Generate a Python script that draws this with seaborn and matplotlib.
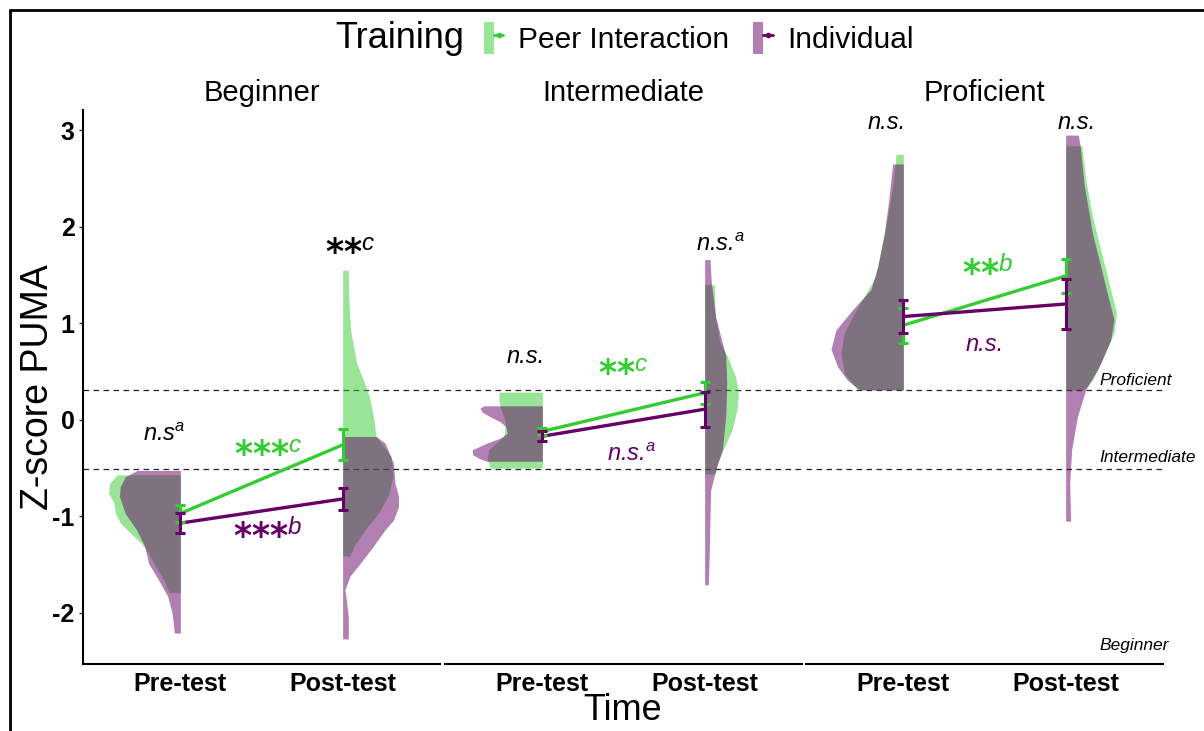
import numpy as np
import pandas as pd
import matplotlib
matplotlib.use("Agg")
import matplotlib.pyplot as plt
import seaborn as sns
from matplotlib.lines import Line2D
from matplotlib.patches import Patch
from matplotlib.legend_handler import HandlerTuple

# ---------------- data ----------------
levels = ["Beginner", "Intermediate", "Proficient"]
times = ["Pre-test", "Post-test"]
groups = ["Peer Interaction", "Individual"]

peer_mean = [[-0.97, -0.26], [-0.12, 0.28], [0.98, 1.49]]
peer_se = [[0.09, 0.16], [0.04, 0.115], [0.18, 0.18]]
ind_mean = [[-1.07, -0.82], [-0.17, 0.11], [1.07, 1.20]]
ind_se = [[0.10, 0.115], [0.05, 0.18], [0.17, 0.26]]

cutoff_values = [0.31, -0.51]
cutoff_names = ["Proficient", "Intermediate", "Beginner"]

# density profiles (y value, half-width)
beg_pre_peer_y = [-0.57, -0.66, -0.76, -0.86, -0.97, -1.07, -1.17, -1.28, -1.38, -1.52, -1.66, -1.79]
beg_pre_peer_w = [0.39, 0.436, 0.442, 0.41, 0.40, 0.37, 0.31, 0.24, 0.195, 0.154, 0.10, 0.072]
beg_pre_ind_y = [-0.525, -0.59, -0.69, -0.79, -0.97, -1.14, -1.31, -1.49, -1.66, -1.83, -2.00, -2.21]
beg_pre_ind_w = [0.267, 0.34, 0.37, 0.376, 0.34, 0.27, 0.22, 0.195, 0.134, 0.078, 0.051, 0.037]
beg_post_peer_y = [1.55, 1.28, 0.93, 0.59, 0.41, 0.24, 0.03, -0.17, -0.38, -0.59, -0.79, -0.97, -1.14, -1.31, -1.41]
beg_post_peer_w = [0.035, 0.037, 0.049, 0.086, 0.128, 0.165, 0.19, 0.206, 0.30, 0.31, 0.28, 0.22, 0.138, 0.07, 0.045]
beg_post_ind_y = [-0.173, -0.24, -0.45, -0.66, -0.79, -0.90, -1.04, -1.14, -1.31, -1.49, -1.62, -1.76, -1.90, -2.04, -2.27]
beg_post_ind_w = [0.206, 0.261, 0.313, 0.323, 0.344, 0.344, 0.313, 0.261, 0.189, 0.107, 0.045, 0.014, 0.025, 0.035, 0.035]

int_pre_peer_y = [0.287, 0.20, 0.14, -0.03, -0.17, -0.31, -0.41, -0.50]
int_pre_peer_w = [0.267, 0.268, 0.261, 0.226, 0.237, 0.33, 0.34, 0.32]
int_pre_ind_y = [0.145, 0.12, 0.08, 0.03, -0.02, -0.07, -0.14, -0.19, -0.24, -0.31, -0.36, -0.40, -0.43]
int_pre_ind_w = [0.36, 0.385, 0.37, 0.319, 0.26, 0.226, 0.216, 0.26, 0.34, 0.432, 0.43, 0.39, 0.34]
int_post_peer_y = [1.40, 1.07, 0.80, 0.66, 0.45, 0.28, 0.11, -0.10, -0.31, -0.45, -0.56]
int_post_peer_w = [0.06, 0.065, 0.095, 0.14, 0.19, 0.208, 0.20, 0.17, 0.115, 0.078, 0.068]
int_post_ind_y = [1.66, 1.42, 1.07, 0.86, 0.66, 0.38, 0.03, -0.31, -0.52, -0.73, -1.00, -1.35, -1.71]
int_post_ind_w = [0.033, 0.041, 0.068, 0.099, 0.13, 0.136, 0.13, 0.109, 0.068, 0.037, 0.033, 0.029, 0.023]

pro_pre_peer_y = [2.75, 2.45, 2.11, 1.76, 1.49, 1.31, 1.11, 0.90, 0.69, 0.48, 0.31]
pro_pre_peer_w = [0.045, 0.062, 0.097, 0.138, 0.169, 0.23, 0.30, 0.364, 0.385, 0.364, 0.28]
pro_pre_ind_y = [2.65, 2.28, 1.93, 1.59, 1.35, 1.14, 0.93, 0.73, 0.55, 0.41, 0.31]
pro_pre_ind_w = [0.066, 0.09, 0.117, 0.158, 0.2, 0.313, 0.416, 0.446, 0.405, 0.344, 0.27]
pro_post_peer_y = [2.84, 2.45, 2.11, 1.76, 1.42, 1.11, 0.90, 0.62, 0.41, 0.31]
pro_post_peer_w = [0.099, 0.128, 0.165, 0.216, 0.267, 0.313, 0.298, 0.226, 0.165, 0.11]
pro_post_ind_y = [2.95, 2.83, 2.45, 1.93, 1.59, 1.24, 1.04, 0.83, 0.55, 0.31, 0.03, -0.31, -0.66, -1.05]
pro_post_ind_w = [0.078, 0.09, 0.113, 0.165, 0.216, 0.267, 0.298, 0.278, 0.206, 0.123, 0.072, 0.037, 0.025, 0.031]

profiles = {
    ("Beginner", 0): [(beg_pre_peer_y, beg_pre_peer_w), (beg_pre_ind_y, beg_pre_ind_w)],
    ("Beginner", 1): [(beg_post_peer_y, beg_post_peer_w), (beg_post_ind_y, beg_post_ind_w)],
    ("Intermediate", 0): [(int_pre_peer_y, int_pre_peer_w), (int_pre_ind_y, int_pre_ind_w)],
    ("Intermediate", 1): [(int_post_peer_y, int_post_peer_w), (int_post_ind_y, int_post_ind_w)],
    ("Proficient", 0): [(pro_pre_peer_y, pro_pre_peer_w), (pro_pre_ind_y, pro_pre_ind_w)],
    ("Proficient", 1): [(pro_post_peer_y, pro_post_peer_w), (pro_post_ind_y, pro_post_ind_w)],
}

# ---------------- style ----------------
sns.set_theme(style="white")
plt.rcParams["font.family"] = ["Liberation Sans", "DejaVu Sans"]
plt.rcParams["mathtext.fontset"] = "custom"
plt.rcParams["mathtext.rm"] = "Liberation Sans"
plt.rcParams["mathtext.it"] = "Liberation Sans:italic"
plt.rcParams["mathtext.bf"] = "Liberation Sans:bold"
for key in ("text.color", "axes.labelcolor", "xtick.color", "ytick.color"):
    plt.rcParams[key] = "black"

GREEN = "#33cc33"
PURPLE = "#660066"
palette = {"Peer Interaction": GREEN, "Individual": PURPLE}
fill_cols = [GREEN, PURPLE]

W, H = 1204, 731
fig = plt.figure(figsize=(W / 100, H / 100), dpi=100)

ax_top, ax_bot = 110, 664
lefts = [83, 445, 806]
pw = 357
axes = []
for i, lev in enumerate(levels):
    ax = fig.add_axes([lefts[i] / W, 1 - ax_bot / H, pw / W, (ax_bot - ax_top) / H])
    axes.append(ax)

# (x, y, main text, superscript, colour)
ann = {
    "Beginner": [
        (-0.10, -0.15, "n.s", "a", "black"),
        (1.05, 1.74, "**", "c", "black"),
        (0.54, -0.35, "***", "c", GREEN),
        (0.54, -1.20, "***", "b", PURPLE),
    ],
    "Intermediate": [
        (-0.10, 0.66, "n.s.", "", "black"),
        (0.50, 0.48, "**", "c", GREEN),
        (0.55, -0.36, "n.s.", "a", PURPLE),
        (1.10, 1.82, "n.s.", "a", "black"),
    ],
    "Proficient": [
        (-0.10, 3.08, "n.s.", "", "black"),
        (1.07, 3.08, "n.s.", "", "black"),
        (0.52, 1.52, "**", "b", GREEN),
        (0.50, 0.78, "n.s.", "", PURPLE),
    ],
}

for i, (ax, lev) in enumerate(zip(axes, levels)):
    # half violins
    for t in (0, 1):
        side = -1 if t == 0 else 1
        for g, (yy, ww) in enumerate(profiles[(lev, t)]):
            yy = np.asarray(yy)
            ww = np.asarray(ww)
            if side < 0:
                ax.fill_betweenx(yy, t - ww, t, color=fill_cols[g], alpha=0.5, lw=0, zorder=1)
            else:
                ax.fill_betweenx(yy, t, t + ww, color=fill_cols[g], alpha=0.5, lw=0, zorder=1)

    # dashed cutoffs
    for cv in cutoff_values:
        ax.axhline(cv, color="#222222", lw=0.9, ls=(0, (4.5, 3.5)), zorder=0.5)

    # means + error bars
    df = pd.DataFrame({
        "x": [0, 1, 0, 1],
        "mean": peer_mean[i] + ind_mean[i],
        "se": peer_se[i] + ind_se[i],
        "Training": [groups[0]] * 2 + [groups[1]] * 2,
    })
    sns.lineplot(data=df, x="x", y="mean", hue="Training", palette=palette,
                 ax=ax, legend=False, lw=2.4, errorbar=None, zorder=3)
    for g in groups:
        sub = df[df["Training"] == g]
        ax.errorbar(sub["x"], sub["mean"], yerr=sub["se"], fmt="none",
                    ecolor=palette[g], elinewidth=2.2, capsize=3.8, capthick=2.2, zorder=4)

    # annotations
    for (x, y, main, sup, c) in ann[lev]:
        is_star = main.startswith("*")
        sup_s = r"$^{%s}$" % sup if sup else ""
        if is_star:
            ax.text(x, y, main + sup_s, color=c, ha="center", va="center",
                    fontsize=25, fontweight="bold", family=["DejaVu Sans"],
                    zorder=5)
        else:
            ax.text(x, y, main + sup_s, color=c, ha="center", va="center",
                    fontsize=17, style="italic", zorder=5)

    ax.set_xlim(-0.6, 1.6)
    ax.set_ylim(-2.53, 3.21)
    ax.set_xticks([0, 1])
    ax.set_xticklabels(times, fontsize=18, fontweight="bold")
    ax.set_xlabel("")
    ax.set_ylabel("")
    ax.tick_params(axis="x", length=0, pad=6, labelcolor="black")
    for sp in ("top", "right"):
        ax.spines[sp].set_visible(False)
    ax.spines["bottom"].set_color("black")
    ax.spines["bottom"].set_linewidth(1.5)
    if i == 0:
        ax.set_yticks([-2, -1, 0, 1, 2, 3])
        ax.set_yticklabels(["-2", "-1", "0", "1", "2", "3"], fontsize=18, fontweight="bold")
        ax.spines["left"].set_color("black")
        ax.spines["left"].set_linewidth(1.5)
        ax.tick_params(axis="y", length=3, width=1, color="#333333", left=True, pad=3,
                       labelcolor="black")
    else:
        ax.spines["left"].set_visible(False)
        ax.set_yticks([])
    ax.text(0.5, 1 + 17 / 554, lev, transform=ax.transAxes, ha="center", va="center",
            fontsize=21, color="black")
    ax.patch.set_alpha(0)

# cutoff labels on right
axr = axes[2]
for name, yv in zip(cutoff_names, [0.41, -0.39, -2.34]):
    axr.text(1.21, yv, name, ha="left", va="center", fontsize=12.5, style="italic",
             clip_on=False, zorder=5, color="black")

# axis titles
fig.text(38 / W, 1 - 387 / H, "Z-score PUMA", rotation=90, ha="center", va="center",
         fontsize=27, color="black")
fig.text(623 / W, 1 - 711 / H, "Time", ha="center", va="center", fontsize=26, color="black")

# legend
fig.text(335 / W, 1 - 38 / H, "Training", ha="left", va="center", fontsize=26, color="black")
handles = []
for g, c in zip(groups, fill_cols):
    handles.append((Patch(facecolor=c, alpha=0.5, edgecolor="none"),
                    Line2D([], [], color=c, lw=2, marker="o", ms=3)))
leg = fig.legend(handles, groups, handler_map={tuple: HandlerTuple(ndivide=None)},
                 loc="center left", bbox_to_anchor=(484 / W, 1 - 38 / H), ncol=2,
                 frameon=False, fontsize=21.5, handlelength=0.65, handleheight=1.3,
                 handletextpad=0.5, columnspacing=0.8, borderaxespad=0, borderpad=0)
for txt in leg.get_texts():
    txt.set_color("black")

# outer frame lines
fig.add_artist(Line2D([10 / W, 10 / W], [0, 1 - 10 / H], transform=fig.transFigure,
                      color="black", lw=2))
fig.add_artist(Line2D([10 / W, 1], [1 - 10 / H, 1 - 10 / H], transform=fig.transFigure,
                      color="black", lw=2))

fig.savefig("out.png", dpi=100, facecolor="white")
